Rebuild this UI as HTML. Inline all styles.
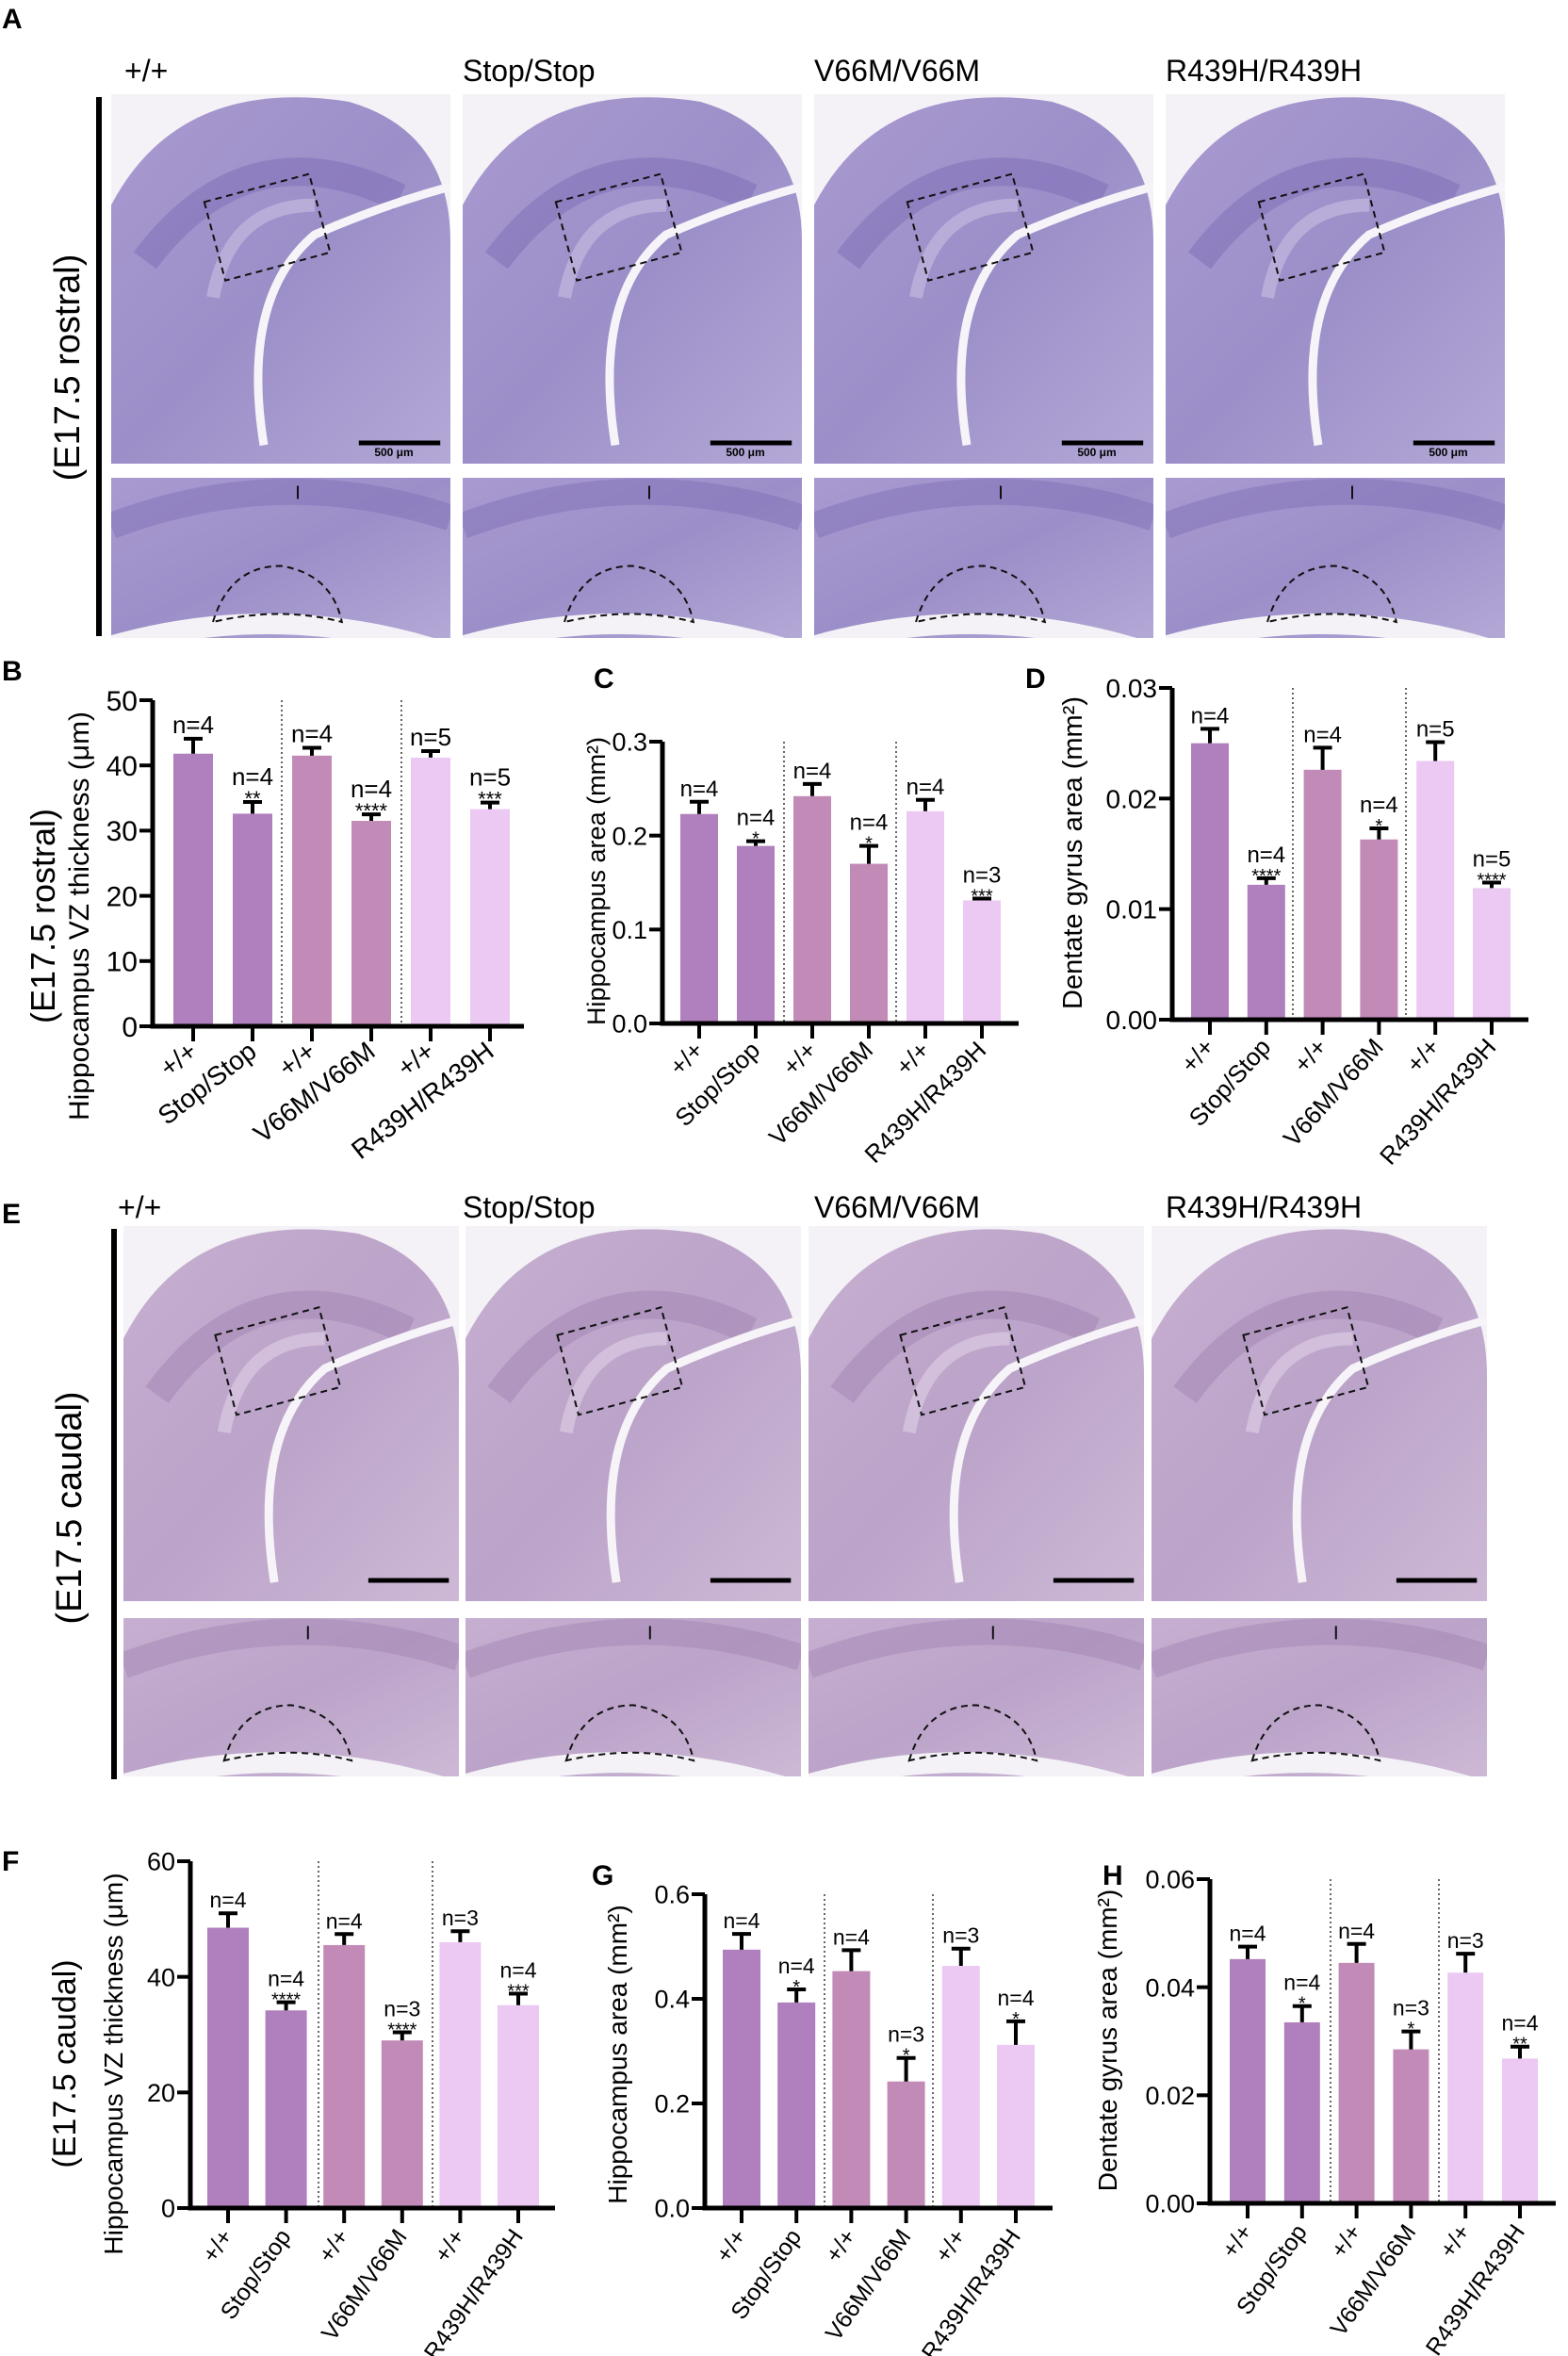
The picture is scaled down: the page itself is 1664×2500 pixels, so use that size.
<!DOCTYPE html>
<html><head><meta charset="utf-8">
<style>
html,body{margin:0;padding:0;background:#fff;}
svg{display:block;font-family:"Liberation Sans",Arial,sans-serif;}
</style></head>
<body>
<svg id="fig" xmlns="http://www.w3.org/2000/svg" width="1664" height="2500" viewBox="0 0 1664 2500">
<defs>
<linearGradient id="gA" x1="0" y1="0" x2="1" y2="1"><stop offset="0" stop-color="#a99ad0"/><stop offset="0.5" stop-color="#9c8ec8"/><stop offset="1" stop-color="#b3a8d6"/></linearGradient>
<linearGradient id="gE" x1="0" y1="0" x2="1" y2="1"><stop offset="0" stop-color="#c6afd0"/><stop offset="0.5" stop-color="#bba3c9"/><stop offset="1" stop-color="#cdb9d6"/></linearGradient>
</defs>
<g id="histo"></g>
<g id="charts"></g>
<g id="labels" font-weight="bold" font-size="30">
<text x="2" y="30">A</text>
<text x="2" y="722">B</text>
<text x="630" y="730">C</text>
<text x="1088" y="730">D</text>
<text x="2" y="1298">E</text>
<text x="2" y="1985">F</text>
<text x="628" y="2000">G</text>
<text x="1170" y="2000">H</text>
</g>
</svg>
<script>
// ---------- chart data ----------
const cats = ["+/+","Stop/Stop","+/+","V66M/V66M","+/+","R439H/R439H"];
const bVals = [41.8,32.6,41.5,31.5,41.2,33.3];
const bErr  = [2.3,1.8,1.2,1.0,1.0,1.0];
const bN    = ["n=4","n=4","n=4","n=4","n=5","n=5"];
const bStar = ["","**","","****","","***"];
const bTicks= [0,10,20,30,40,50];
const cVals = [0.223,0.189,0.242,0.170,0.226,0.131];
const cErr  = [0.013,0.005,0.013,0.019,0.012,0.002];
const cN    = ["n=4","n=4","n=4","n=4","n=4","n=3"];
const cStar = ["","*","","*","","***"];
const cTicks= [0,0.1,0.2,0.3];
const cTickLabels=["0.0","0.1","0.2","0.3"];
const dVals = [0.0250,0.0122,0.0226,0.0163,0.0234,0.0119];
const dErr  = [0.0013,0.0006,0.0020,0.0010,0.0017,0.0005];
const dN    = ["n=4","n=4","n=4","n=4","n=5","n=5"];
const dStar = ["","****","","*","","****"];
const dTicks= [0,0.01,0.02,0.03];
const dTickLabels=["0.00","0.01","0.02","0.03"];
const fVals = [48.5,34.2,45.5,29.0,46.0,35.1];
const fErr  = [2.5,1.4,1.9,1.4,1.9,2.0];
const fN    = ["n=4","n=4","n=4","n=3","n=3","n=4"];
const fStar = ["","****","","****","","***"];
const fTicks= [0,20,40,60];
const gVals = [0.494,0.393,0.453,0.242,0.463,0.312];
const gErr  = [0.030,0.025,0.040,0.045,0.033,0.045];
const gN    = ["n=4","n=4","n=4","n=3","n=3","n=4"];
const gStar = ["","*","","*","","*"];
const gTicks= [0,0.2,0.4,0.6];
const gTickLabels=["0.0","0.2","0.4","0.6"];
const hVals = [0.0452,0.0335,0.0445,0.0285,0.0427,0.0268];
const hErr  = [0.0023,0.0030,0.0035,0.0033,0.0035,0.0022];
const hN    = ["n=4","n=4","n=4","n=3","n=3","n=4"];
const hStar = ["","*","","*","","**"];
const hTicks= [0,0.02,0.04,0.06];
const hTickLabels=["0.00","0.02","0.04","0.06"];

const NS="http://www.w3.org/2000/svg";
const colors=["#b07fbd","#b07fbd","#c28bb7","#c28bb7","#ecc9f3","#ecc9f3"];
function mk(tag,attrs,parent){const e=document.createElementNS(NS,tag);for(const k in attrs)e.setAttribute(k,attrs[k]);parent.appendChild(e);return e;}

function chart(id,cfg,vals,errs,ns,stars,ticks,tickLabels){
  const g=mk('g',{},document.getElementById('charts'));
  
  
  const y=v=>cfg.y0-(v/cfg.max)*(cfg.y0-cfg.yTop);
  const x=i=>cfg.c0+i*cfg.step;
  cfg.seps.forEach((sx,k)=>{
    const s=mk('line',{x1:sx,x2:sx,y1:cfg.yTop,y2:cfg.y0,stroke:'#333','stroke-width':1.5,'stroke-dasharray':'2,3'},g);
    
    
  });
  vals.forEach((v,i)=>{
    const b=mk('rect',{x:x(i)-cfg.bw/2,y:y(v),width:cfg.bw,height:cfg.y0-y(v),fill:colors[i]},g);
    
    
    const top=y(v+errs[i]);
    const e=mk('path',{d:`M${x(i)} ${y(v)}V${top}M${x(i)-10} ${top}H${x(i)+10}`,stroke:'#000','stroke-width':4,fill:'none'},g);
    
    
    let ty=top-6;
    if(stars[i]){
      const st=mk('text',{x:x(i),y:ty+10,'text-anchor':'middle','font-size':cfg.sf},g);
      st.textContent=stars[i];
      
      
      ty-=cfg.sf*0.55;
    }
    const nt=mk('text',{x:x(i),y:ty,'text-anchor':'middle','font-size':cfg.nf},g);
    nt.textContent=ns[i];
    
    
    mk('line',{x1:x(i),x2:x(i),y1:cfg.y0,y2:cfg.y0+16,stroke:'#000','stroke-width':4},g);
    const lx=x(i)+6, ly=cfg.y0+30;
    const t=mk('text',{x:lx,y:ly,'text-anchor':'end','font-size':cfg.xf,transform:`rotate(${-cfg.ang} ${lx} ${ly})`},g);
    t.textContent=cats[i];
    
    
  });
  const ax=mk('path',{d:`M${cfg.ax} ${cfg.yTop}V${cfg.y0}H${cfg.xEnd}`,stroke:'#000','stroke-width':5,fill:'none'},g);
  
  
  ticks.forEach((tv,k)=>{
    mk('line',{x1:cfg.ax-14,x2:cfg.ax,y1:y(tv),y2:y(tv),stroke:'#000','stroke-width':4},g);
    const tl=mk('text',{x:cfg.ax-16,y:y(tv)+cfg.tf*0.36,'text-anchor':'end','font-size':cfg.tf},g);
    tl.textContent=tickLabels?tickLabels[k]:String(tv);
    
    
  });
  const tx=cfg.titleX, tyc=cfg.titleY;
  const yt=mk('text',{x:tx,y:tyc,'text-anchor':'middle','font-size':cfg.ttf,transform:`rotate(-90 ${tx} ${tyc})`},g);
  yt.textContent=cfg.title;
  
  
  if(cfg.sup){
    const sx=cfg.supX;
    const st=mk('text',{x:sx,y:tyc,'text-anchor':'middle','font-size':cfg.supF,transform:`rotate(-90 ${sx} ${tyc})`},g);
    st.textContent=cfg.sup;
    
    
  }
}
chart('chart-b',{ax:162,y0:1089,yTop:743,max:50,c0:205,step:63,bw:42,seps:[299,426],xEnd:556,ang:38,xf:28,tf:30,nf:26,sf:22,title:'Hippocampus VZ thickness (μm)',titleX:94,titleY:972,ttf:30,sup:'(E17.5 rostral)',supX:58,supF:36},bVals,bErr,bN,bStar,bTicks);
chart('chart-c',{ax:703,y0:1086,yTop:787,max:0.3,c0:742,step:60,bw:40,seps:[832,951],xEnd:1081,ang:45,xf:26,tf:27,nf:24,sf:20,title:'Hippocampus area (mm²)',titleX:642,titleY:935,ttf:27},cVals,cErr,cN,cStar,cTicks,cTickLabels);
chart('chart-d',{ax:1244,y0:1082,yTop:730,max:0.03,c0:1284,step:59.8,bw:40,seps:[1372,1492],xEnd:1622,ang:48,xf:26,tf:28,nf:24,sf:20,title:'Dentate gyrus area (mm²)',titleX:1148,titleY:905,ttf:29},dVals,dErr,dN,dStar,dTicks,dTickLabels);
chart('chart-f',{ax:202,y0:2343,yTop:1975,max:60,c0:242,step:61.6,bw:44,seps:[338,459],xEnd:589,ang:55,xf:25,tf:27,nf:23,sf:20,title:'Hippocampus VZ thickness (μm)',titleX:130,titleY:2190,ttf:28,sup:'(E17.5 caudal)',supX:80,supF:34},fVals,fErr,fN,fStar,fTicks);
chart('chart-g',{ax:748,y0:2343,yTop:2010,max:0.6,c0:787,step:58.2,bw:40,seps:[875,990],xEnd:1117,ang:55,xf:25,tf:27,nf:23,sf:20,title:'Hippocampus area (mm²)',titleX:665,titleY:2180,ttf:28},gVals,gErr,gN,gStar,gTicks,gTickLabels);
chart('chart-h',{ax:1284,y0:2338,yTop:1994,max:0.06,c0:1324,step:57.8,bw:38,seps:[1412,1527],xEnd:1651,ang:55,xf:25,tf:27,nf:23,sf:20,title:'Dentate gyrus area (mm²)',titleX:1185,titleY:2165,ttf:28},hVals,hErr,hN,hStar,hTicks,hTickLabels);

// ---------- histology panels ----------
const H=document.getElementById('histo');
const genos=["+/+","Stop/Stop","V66M/V66M","R439H/R439H"];
function tissue(x,y,w,h,grad,dark,light,top,idx,sec){
  const g=mk('g',{},H);
  
  
  const cid='c'+sec+idx+(top?'t':'b');
  const cp=mk('clipPath',{id:cid},g);
  mk('rect',{x:x,y:y,width:w,height:h},cp);
  const inner=mk('g',{'clip-path':`url(#${cid})`},g);
  mk('rect',{x:x,y:y,width:w,height:h,fill:'#f4f2f6'},inner);
  if(top){
    mk('path',{d:`M${x} ${y+h} L${x} ${y+h*0.3} Q${x+w*0.2} ${y-h*0.05} ${x+w*0.7} ${y+h*0.02} Q${x+w} ${y+h*0.1} ${x+w} ${y+h*0.4} L${x+w} ${y+h} Z`,fill:`url(#${grad})`},inner);
    mk('path',{d:`M${x+w*0.1} ${y+h*0.45} Q${x+w*0.4} ${y+h*0.08} ${x+w*0.85} ${y+h*0.28}`,stroke:dark,'stroke-width':30,fill:'none',opacity:0.55},inner);
    mk('path',{d:`M${x+w*0.45} ${y+h*0.95} Q${x+w*0.38} ${y+h*0.55} ${x+w*0.6} ${y+h*0.38} Q${x+w*0.8} ${y+h*0.3} ${x+w} ${y+h*0.25}`,stroke:'#f6f4f8','stroke-width':9,fill:'none'},inner);
    mk('path',{d:`M${x+w*0.3} ${y+h*0.55} Q${x+w*0.35} ${y+h*0.3} ${x+w*0.6} ${y+h*0.3}`,stroke:light,'stroke-width':14,fill:'none',opacity:0.7},inner);
    mk('rect',{x:x+w*0.3,y:y+h*0.25,width:w*0.32,height:h*0.22,fill:'none',stroke:'#111','stroke-width':2,'stroke-dasharray':'7,5',transform:`rotate(-15 ${x+w*0.46} ${y+h*0.36})`},inner);
    mk('line',{x1:x+w*0.73,x2:x+w*0.97,y1:y+h-22,y2:y+h-22,stroke:'#000','stroke-width':5},inner);
  } else {
    mk('rect',{x:x,y:y,width:w,height:h,fill:`url(#${grad})`},inner);
    mk('path',{d:`M${x} ${y+h*0.3} Q${x+w*0.5} ${y-h*0.1} ${x+w} ${y+h*0.25}`,stroke:dark,'stroke-width':28,fill:'none',opacity:0.5},inner);
    mk('path',{d:`M${x} ${y+h*1.05} Q${x+w*0.5} ${y+h*0.75} ${x+w} ${y+h*1.1}`,stroke:'#f4f2f6','stroke-width':22,fill:'none'},inner);
    mk('path',{d:`M${x+w*0.3} ${y+h*0.9} Q${x+w*0.35} ${y+h*0.55} ${x+w*0.5} ${y+h*0.55} Q${x+w*0.65} ${y+h*0.6} ${x+w*0.68} ${y+h*0.9} Q${x+w*0.5} ${y+h*0.8} ${x+w*0.3} ${y+h*0.9}Z`,fill:'none',stroke:'#111','stroke-width':2,'stroke-dasharray':'7,5'},inner);
    mk('path',{d:`M${x+w*0.55} ${y+h*0.05}v14`,stroke:'#111','stroke-width':2},inner);
  }
}
const axs=[118,491,864,1237];
axs.forEach((x,i)=>{tissue(x,100,360,392,'gA','#7f6fb8','#c3b8e0',true,i,'a');tissue(x,507,360,170,'gA','#7f6fb8','#c3b8e0',false,i,'a');});
const exs=[131,494,858,1222];
exs.forEach((x,i)=>{tissue(x,1301,356,398,'gE','#a486b4','#dccbe2',true,i,'e');tissue(x,1717,356,168,'gE','#a486b4','#dccbe2',false,i,'e');});
axs.forEach((x,i)=>{const t=mk('text',{x:x+300,y:484,'text-anchor':'middle','font-size':12,'font-weight':'bold'},H);t.textContent='500 μm';

});
const bar1=mk('rect',{x:102,y:103,width:6,height:572,fill:'#000'},H);


const bar2=mk('rect',{x:118,y:1304,width:6,height:584,fill:'#000'},H);


const r1=mk('text',{x:84,y:390,'text-anchor':'middle','font-size':38,transform:'rotate(-90 84 390)'},H);r1.textContent='(E17.5 rostral)';


const r2=mk('text',{x:86,y:1600,'text-anchor':'middle','font-size':38,transform:'rotate(-90 86 1600)'},H);r2.textContent='(E17.5 caudal)';


const hxA=[132,491,864,1237], hxE=[125,491,864,1237];
genos.forEach((gn,i)=>{
  const t=mk('text',{x:hxA[i],y:86,'font-size':32},H);t.textContent=gn;
  
  
  const t2=mk('text',{x:hxE[i],y:1292,'font-size':32},H);t2.textContent=gn;
  
  
});
</script>
</body></html>
